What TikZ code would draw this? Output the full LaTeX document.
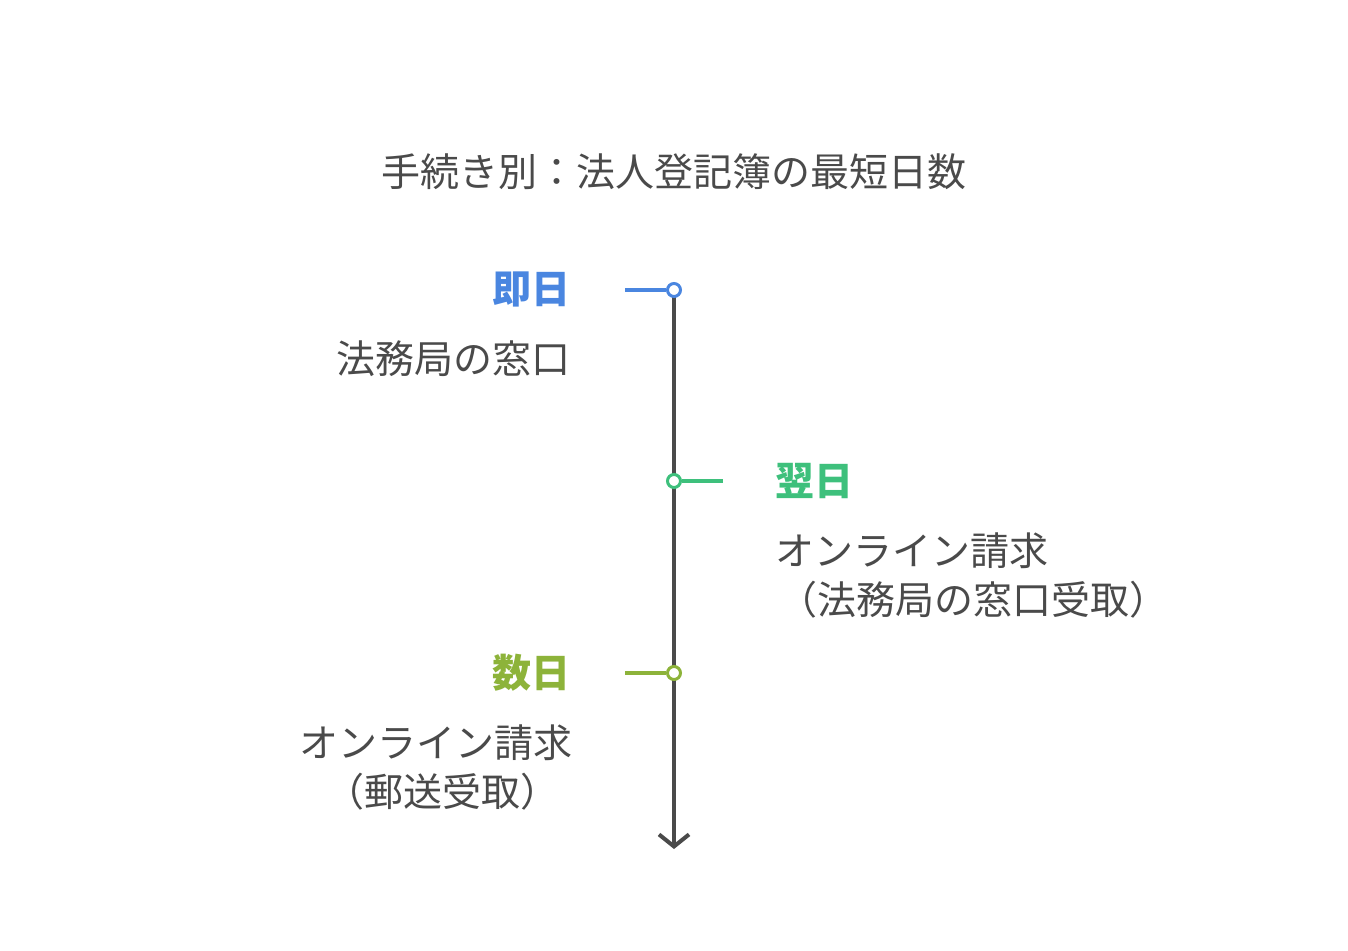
\documentclass[tikz,border=0pt]{standalone}
\usepackage{fontspec}
\setmainfont{Noto Sans CJK JP}
\usetikzlibrary{arrows.meta}
\definecolor{cblue}{HTML}{4A86E0}
\definecolor{cgreen}{HTML}{3EC07C}
\definecolor{colive}{HTML}{8DB33A}
\definecolor{cgray}{HTML}{4A4A4A}
\tikzset{
  lbl/.style={font=\fontsize{39}{46}\selectfont, text=cgray, inner sep=0pt},
  head/.style={font=\fontsize{39}{46}\selectfont\bfseries, inner sep=0pt},
  dot/.style={circle, draw, fill=white, line width=3pt, minimum size=13pt, inner sep=0pt},
  tick/.style={line width=3.5pt},
}
\begin{document}
\begin{tikzpicture}[x=1pt,y=-1pt]
\useasboundingbox (0,0) rectangle (1348,950);
\node[lbl] (title) at (674,172) {手続き別：法人登記簿の最短日数};
\coordinate (top) at (674,290);
\coordinate (bot) at (674,849);
\draw[cgray, line width=4pt, -{Straight Barb[length=12pt,width=30pt,line width=4pt]}] (top) -- (bot);
\node[dot, draw=cblue] (d1) at (674,290) {};
\node[dot, draw=cgreen] (d2) at (674,481) {};
\node[dot, draw=colive] (d3) at (674,673) {};
\coordinate (t1) at (625,290);
\coordinate (t2) at (723,481);
\coordinate (t3) at (625,673);
\draw[tick, cblue] (t1) -- (d1);
\draw[tick, cgreen] (d2) -- (t2);
\draw[tick, colive] (t3) -- (d3);
\node[head, text=cblue, anchor=east] (h1) at (571,289) {即日};
\node[lbl, anchor=east] (l1) at (571,359) {法務局の窓口};
\node[head, text=cgreen, anchor=west] (h2) at (775,481) {翌日};
\node[lbl, anchor=west] (l2a) at (775,551) {オンライン請求};
\node[lbl, anchor=west] (l2b) at (778,600) {（法務局の窓口受取）};
\node[head, text=colive, anchor=east] (h3) at (571,673) {数日};
\node[lbl, anchor=east] (l3a) at (573,743) {オンライン請求};
\node[lbl, anchor=east] (l3b) at (560,792) {（郵送受取）};
\end{tikzpicture}
\end{document}
